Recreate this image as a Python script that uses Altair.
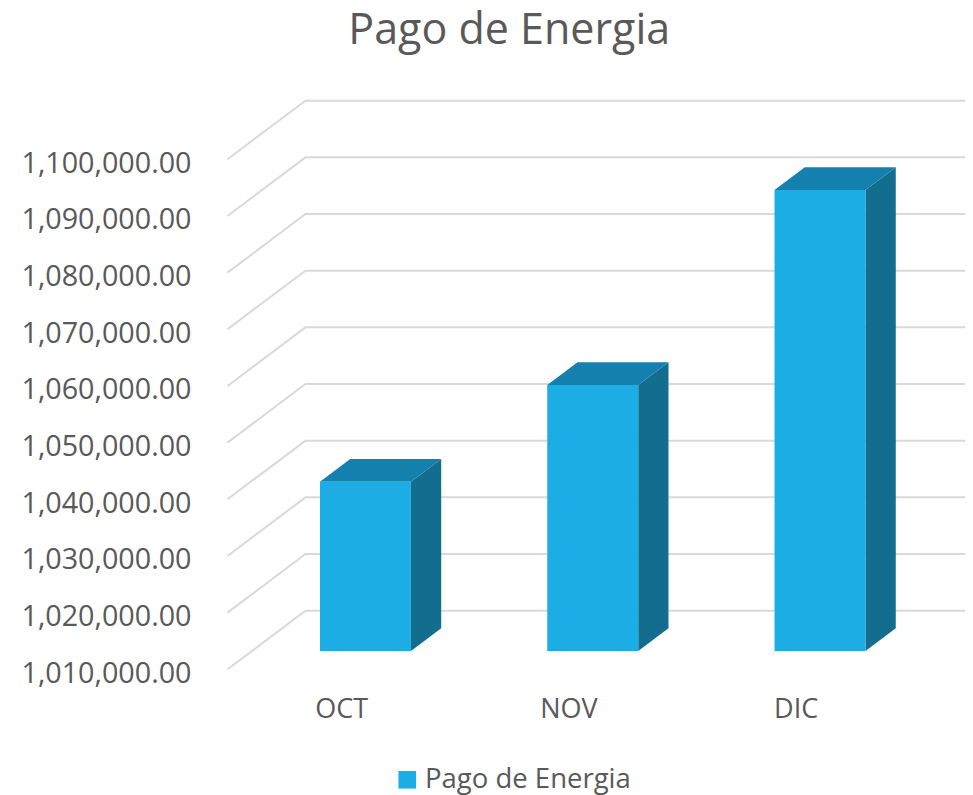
import json
import altair as alt
import pandas as pd

categories = ["OCT", "NOV", "DIC"]
values = [1039875, 1056940, 1091350]
ticks = [1010000, 1020000, 1030000, 1040000, 1050000, 1060000, 1070000, 1080000, 1090000, 1100000]
series_name = "Pago de Energia"

BASE = 1010000
DEPTH_X = 78.0 / 227.35      # wall depth, in category units
DEPTH_Y = 58.6 / 56.67 * 10000  # wall depth, in value units
BAR_W = 91.0 / 227.35
BAR_FRONT = 0.312
BAR_BACK = 0.70

X_DOMAIN = [-0.5, 2.745]
Y_DOMAIN = [1006347, 1112224]
FONT = "Open Sans"
TEXT = "#595959"

x_scale = alt.Scale(domain=X_DOMAIN, nice=False, zero=False)
y_scale = alt.Scale(domain=Y_DOMAIN, nice=False, zero=False)


def px(i, depth):
    return i + depth * DEPTH_X


def py(v, depth):
    return v + depth * DEPTH_Y


grid_rows = []
for t in ticks:
    grid_rows.append({"tick": t, "order": 0, "x": X_DOMAIN[0], "y": py(t, 0)})
    grid_rows.append({"tick": t, "order": 1, "x": px(X_DOMAIN[0], 1), "y": py(t, 1)})
    grid_rows.append({"tick": t, "order": 2, "x": X_DOMAIN[1], "y": py(t, 1)})
grid_df = pd.DataFrame(grid_rows)

front_rows, side_rows, top_rows = [], [], []
for i, (c, v) in enumerate(zip(categories, values)):
    l = i - BAR_W / 2
    r = i + BAR_W / 2
    l0, l1 = px(l, BAR_FRONT), px(l, BAR_BACK)
    r0, r1 = px(r, BAR_FRONT), px(r, BAR_BACK)
    front_rows.append({"cat": c, "series": series_name, "x": l0, "x2": r0,
                       "y": py(v, BAR_FRONT), "y2": py(BASE, BAR_FRONT)})
    side_rows += [
        {"cat": c, "x": r0, "y": py(v, BAR_FRONT), "y2": py(BASE, BAR_FRONT)},
        {"cat": c, "x": r1, "y": py(v, BAR_BACK), "y2": py(BASE, BAR_BACK)},
    ]
    top_rows += [
        {"cat": c, "x": l0, "y": py(v, BAR_FRONT), "y2": py(v, BAR_FRONT)},
        {"cat": c, "x": l1, "y": py(v, BAR_BACK), "y2": py(v, BAR_FRONT)},
        {"cat": c, "x": r0, "y": py(v, BAR_BACK), "y2": py(v, BAR_FRONT)},
        {"cat": c, "x": r1, "y": py(v, BAR_BACK), "y2": py(v, BAR_BACK)},
    ]

x_axis = alt.Axis(
    values=[0, 1, 2],
    labelExpr=json.dumps(categories) + "[datum.value]",
    domain=False, ticks=False, grid=False, title=None,
    labelFont=FONT, labelFontSize=27, labelColor=TEXT, labelPadding=6,
    labelOverlap=False, labelFlush=False,
)
y_axis = alt.Axis(
    values=ticks, format=",.2f",
    domain=False, ticks=False, grid=False, title=None,
    labelFont=FONT, labelFontSize=28.7, labelColor=TEXT, labelPadding=36.5,
    labelOffset=4, labelOverlap=False, labelFlush=False,
)

x_enc = alt.X("x:Q", scale=x_scale, axis=x_axis)
y_enc = alt.Y("y:Q", scale=y_scale, axis=y_axis)

grid = alt.Chart(grid_df).mark_line(color="#D9D9D9", strokeWidth=2).encode(
    x=x_enc,
    y=y_enc,
    detail="tick:N",
    order="order:Q",
)

side = alt.Chart(pd.DataFrame(side_rows)).mark_area(color="#126D8F", orient="vertical").encode(
    x=x_enc,
    y=y_enc,
    y2="y2:Q",
    detail="cat:N",
)

top = alt.Chart(pd.DataFrame(top_rows)).mark_area(color="#1480AD", orient="vertical").encode(
    x=x_enc,
    y=y_enc,
    y2="y2:Q",
    detail="cat:N",
)

front = alt.Chart(pd.DataFrame(front_rows)).mark_rect().encode(
    x=x_enc,
    x2="x2:Q",
    y=y_enc,
    y2="y2:Q",
    color=alt.Color(
        "series:N",
        scale=alt.Scale(domain=[series_name], range=["#1CADE4"]),
        legend=alt.Legend(
            orient="none", legendX=166, legendY=676, title=None, padding=0,
            symbolType="square", symbolSize=310, symbolStrokeWidth=0,
            labelFont=FONT, labelFontSize=27.5, labelColor=TEXT, labelOffset=4,
            labelLimit=400,
        ),
    ),
)

chart = (
    alt.layer(grid, side, top, front)
    .properties(
        width=737.5,
        height=600,
        padding={"left": 219.5, "top": 82, "right": 0, "bottom": 105},
        autosize=alt.AutoSizeParams(type="none"),
        title=alt.TitleParams(
            text="Pago de Energia", anchor="middle", frame="group", dx=-87,
            offset=37, font=FONT, fontSize=43, fontWeight="normal", color=TEXT,
        ),
    )
    .configure_view(stroke=None)
)

chart.save("out.html", embed_options={"renderer": "svg", "actions": False})
